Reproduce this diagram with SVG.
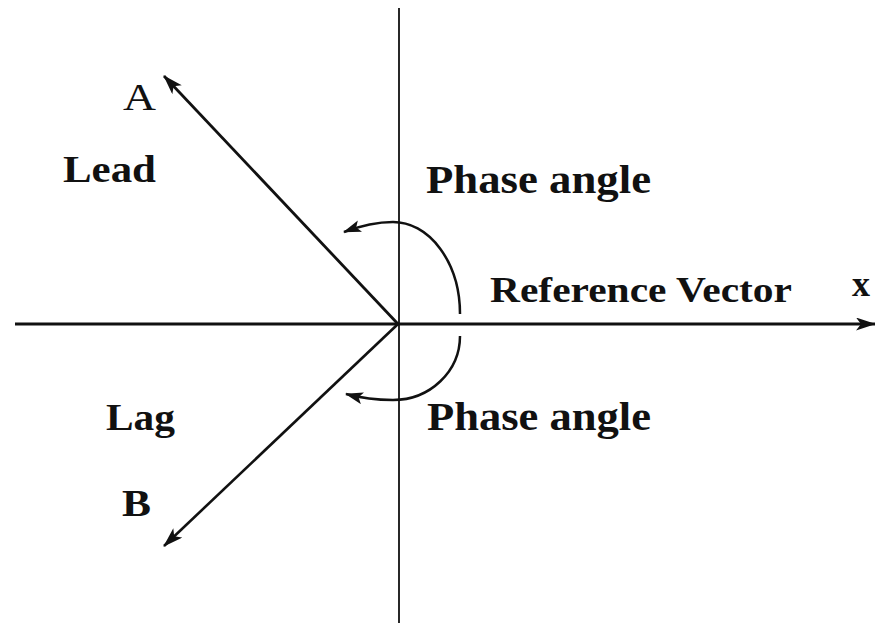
<svg xmlns="http://www.w3.org/2000/svg" width="875" height="623" viewBox="0 0 875 623">
<style>
.ln{stroke:#111;fill:none}
.lbl{font-family:"Liberation Serif","Times New Roman",serif;fill:#111}
.b{font-weight:bold}
</style>
<defs>
<marker id="ah" markerUnits="userSpaceOnUse" markerWidth="22" markerHeight="14" refX="19" refY="6.5" orient="auto">
<path d="M0,0 L20,6.5 L0,13 L5,6.5 Z" fill="#111"/>
</marker>
<marker id="ahs" markerUnits="userSpaceOnUse" markerWidth="20" markerHeight="14" refX="17" refY="6" orient="auto">
<path d="M0,0 L18,6 L0,12 L4,6 Z" fill="#111"/>
</marker>
</defs>
<rect width="875" height="623" fill="#fff"/>
<g id="connectors">
<line id="y-axis" class="ln" x1="399" y1="8" x2="399" y2="623" stroke-width="1.8"/>
<line id="x-axis" class="ln" x1="15" y1="324" x2="875" y2="324" stroke-width="3.2" marker-end="url(#ah)"/>
<line id="vecA" class="ln" x1="398" y1="324" x2="164" y2="76" stroke-width="2.8" marker-end="url(#ah)"/>
<line id="vecB" class="ln" x1="398" y1="324" x2="164" y2="546" stroke-width="2.6" marker-end="url(#ah)"/>
<path id="arc-lead" class="ln" d="M460 314 A67 92 0 0 0 393 222 C376 222 360 226 344 232" stroke-width="2.5" marker-end="url(#ahs)"/>
<path id="arc-lag" class="ln" d="M460 336 A67 64 0 0 1 393 400 C376 400 361 398 346 394" stroke-width="2.5" marker-end="url(#ahs)"/>
</g>
<g id="label-A"><text class="lbl" x="123" y="110" font-size="37" textLength="33" lengthAdjust="spacingAndGlyphs">A</text></g>
<g id="label-lead"><text class="lbl b" x="63" y="182" font-size="37" textLength="93" lengthAdjust="spacingAndGlyphs">Lead</text></g>
<g id="label-phase-upper"><text class="lbl b" x="426" y="193" font-size="39" textLength="225" lengthAdjust="spacingAndGlyphs">Phase angle</text></g>
<g id="label-reference"><text class="lbl b" x="490" y="302" font-size="36" textLength="302" lengthAdjust="spacingAndGlyphs">Reference Vector</text></g>
<g id="label-x"><text class="lbl b" x="852" y="296" font-size="36">x</text></g>
<g id="label-phase-lower"><text class="lbl b" x="427" y="430" font-size="39" textLength="224" lengthAdjust="spacingAndGlyphs">Phase angle</text></g>
<g id="label-lag"><text class="lbl b" x="106" y="430" font-size="37" textLength="69" lengthAdjust="spacingAndGlyphs">Lag</text></g>
<g id="label-B"><text class="lbl b" x="122" y="516" font-size="37" textLength="29" lengthAdjust="spacingAndGlyphs">B</text></g>
</svg>
